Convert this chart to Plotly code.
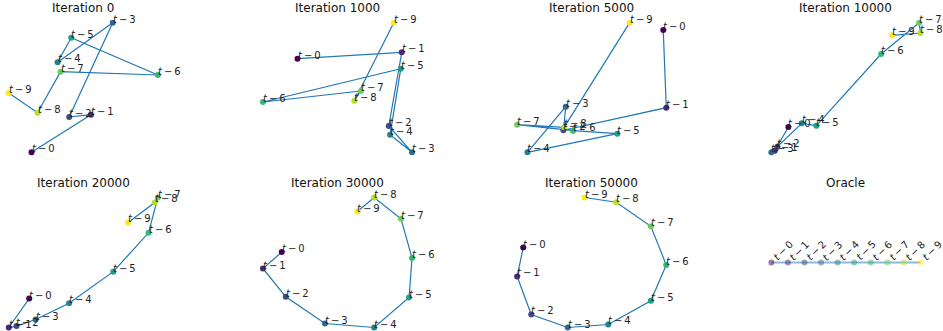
import plotly.graph_objects as go

# ---------------- data ----------------
titles = ["Iteration 0", "Iteration 1000", "Iteration 5000", "Iteration 10000",
          "Iteration 20000", "Iteration 30000", "Iteration 50000", "Oracle"]
step_labels = ["t − 0", "t − 1", "t − 2", "t − 3", "t − 4",
               "t − 5", "t − 6", "t − 7", "t − 8", "t − 9"]

iter0_x = [31.7, 91.0, 69.3, 112.7, 57.7, 71.3, 157.7, 60.7, 37.7, 9.0]
iter0_y = [7.7, 45.3, 43.0, 137.3, 97.7, 122.3, 85.0, 88.3, 47.3, 67.0]

iter1000_x = [43.3, 147.7, 134.7, 158.0, 136.0, 146.7, 8.7, 106.7, 100.3, 139.7]
iter1000_y = [101.3, 107.7, 34.0, 7.7, 25.3, 91.3, 58.0, 69.0, 59.3, 137.3]

iter5000_x = [155.3, 158.3, 55.3, 57.7, 19.3, 109.3, 65.0, 9.0, 56.0, 121.7]
iter5000_y = [130.0, 52.3, 29.7, 53.3, 7.7, 26.3, 29.3, 35.3, 32.7, 137.3]

iter10000_x = [26.3, 12.7, 15.3, 9.3, 39.7, 54.3, 119.0, 157.0, 158.3, 130.0]
iter10000_y = [33.0, 9.3, 13.3, 7.7, 36.7, 34.3, 106.0, 137.3, 127.0, 124.7]

iter20000_x = [29.3, 9.0, 16.7, 35.7, 69.0, 113.0, 148.0, 157.3, 154.3, 127.7]
iter20000_y = [36.3, 7.3, 8.7, 15.3, 31.7, 63.3, 102.3, 137.7, 132.7, 112.7]

iter30000_x = [28.0, 9.3, 32.0, 71.0, 120.0, 154.7, 157.7, 146.7, 120.0, 103.3]
iter30000_y = [82.7, 66.3, 38.0, 11.3, 7.3, 37.3, 76.7, 116.0, 137.3, 123.3]

iter50000_x = [15.7, 9.7, 23.7, 60.0, 100.3, 142.7, 158.0, 142.7, 108.3, 76.7]
iter50000_y = [87.0, 58.3, 20.3, 7.3, 10.3, 34.0, 69.7, 108.3, 132.3, 137.0]

oracle_x = [0, 1, 2, 3, 4, 5, 6, 7, 8, 9]
oracle_y = [0, 0, 0, 0, 0, 0, 0, 0, 0, 0]

panels_x = [iter0_x, iter1000_x, iter5000_x, iter10000_x,
            iter20000_x, iter30000_x, iter50000_x, oracle_x]
panels_y = [iter0_y, iter1000_y, iter5000_y, iter10000_y,
            iter20000_y, iter30000_y, iter50000_y, oracle_y]

# ---------------- layout geometry (pixels) ----------------
W, H = 943, 331
col_center = [83.3 + 254.2 * c for c in range(4)]
box_w = 164.0
row_top = [16.2, 191.0]
row_bot = [158.8, 334.0]

fig = go.Figure()
annotations = []
layout_axes = {}
color_idx = list(range(10))

for i in range(8):
    r, c = divmod(i, 4)
    xs, ys = panels_x[i], panels_y[i]
    ax = "" if i == 0 else str(i + 1)
    xref, yref = "x" + ax, "y" + ax

    # x range (matplotlib-like 5% margins)
    xmin, xmax = min(xs), max(xs)
    xs_span = xmax - xmin
    xr = [xmin - 0.05 * xs_span, xmax + 0.05 * xs_span]
    # y range
    ymin, ymax = min(ys), max(ys)
    ys_span = ymax - ymin
    if ys_span == 0:
        lo, hi = ymin - 1, ymin + 1
    else:
        lo, hi = ymin - 0.05 * ys_span, ymax + 0.05 * ys_span
    top_px, bot_px = row_top[r], row_bot[r]
    if bot_px > H:
        lo = lo + (bot_px - H) / (bot_px - top_px) * (hi - lo)
        bot_px = H
    xd = [(col_center[c] - box_w / 2) / W, (col_center[c] + box_w / 2) / W]
    yd = [1 - bot_px / H, 1 - top_px / H]

    common = dict(visible=False, showgrid=False, zeroline=False, fixedrange=True)
    layout_axes["xaxis" + ax] = dict(domain=xd, range=xr, anchor=yref, **common)
    layout_axes["yaxis" + ax] = dict(domain=yd, range=[lo, hi], anchor=xref, **common)

    oracle = (i == 7)
    fig.add_trace(go.Scatter(
        x=xs, y=ys, mode="lines", xaxis=xref, yaxis=yref,
        line=dict(color="#1f77b4", width=2.2 if oracle else 1.2),
        opacity=0.5 if oracle else 1.0, hoverinfo="skip", showlegend=False,
        cliponaxis=False))
    fig.add_trace(go.Scatter(
        x=xs, y=ys, mode="markers", xaxis=xref, yaxis=yref,
        marker=dict(size=6, color=color_idx, colorscale="Viridis",
                    cmin=0, cmax=9, line=dict(width=0)),
        opacity=0.5 if oracle else 1.0, showlegend=False, cliponaxis=False))

    for k in range(10):
        txt = step_labels[k].replace("t", "<i>t</i>", 1).replace(" ", "\u2009")
        if oracle:
            annotations.append(dict(
                x=xs[k], y=ys[k], xref=xref, yref=yref, text=txt, showarrow=False,
                xanchor="left", yanchor="bottom", textangle=-45,
                xshift=-3, yshift=-3,
                font=dict(family="DejaVu Sans", size=10, color="#222222")))
        else:
            annotations.append(dict(
                x=xs[k], y=ys[k], xref=xref, yref=yref, text=txt, showarrow=False,
                xanchor="left", yanchor="bottom", xshift=-2, yshift=-4,
                font=dict(family="DejaVu Sans", size=10, color="#222222")))

    annotations.append(dict(
        x=(xd[0] + xd[1]) / 2, y=1 - row_top[r] / H, xref="paper", yref="paper",
        text=titles[i], showarrow=False, xanchor="center", yanchor="bottom",
        yshift=-1, font=dict(family="DejaVu Sans", size=12, color="#111111")))

fig.update_layout(
    width=W, height=H, margin=dict(l=0, r=0, t=0, b=0),
    paper_bgcolor="white", plot_bgcolor="white",
    annotations=annotations, showlegend=False, **layout_axes)

fig.write_html(
    "out.html",
    config={"displayModeBar": False, "staticPlot": True},
    post_script="document.body.style.margin='0';document.body.style.overflow='hidden';")
